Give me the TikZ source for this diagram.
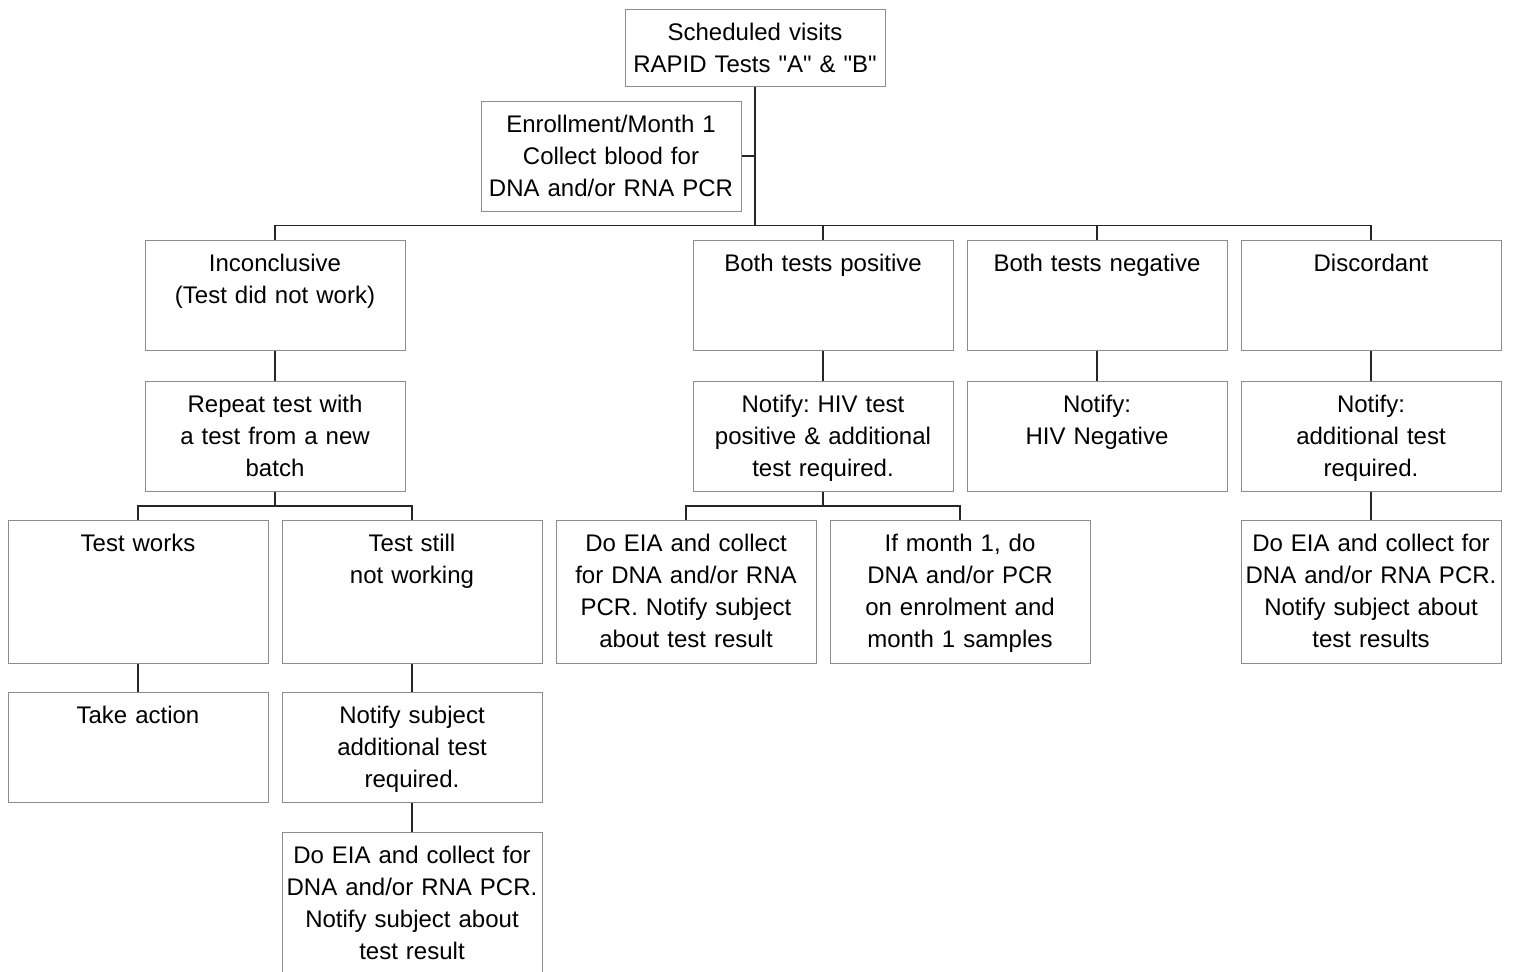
\documentclass[tikz,border=0pt]{standalone}
\usepackage{fontspec}
\setmainfont{Liberation Sans}
\usetikzlibrary{positioning}
\frenchspacing

\begin{document}
\begin{tikzpicture}[x=1pt,y=1pt,node distance=137pt,
	font=\fontsize{12pt}{16pt}\selectfont,
	box/.style={draw=black!45,line width=0.5pt,text width=128pt,align=center,
		inner xsep=1pt,inner ysep=2pt,text height=13.5pt,text depth=37.5pt},
	tallbox/.style={box,text depth=54pt},
	topbox/.style={box,text depth=21pt},
	link/.style={draw=black!85,line width=0.6pt}]
	\useasboundingbox (0,0) rectangle (757.5,-485.5);

	\node[topbox] (visits) at (377.5,-23.75) {Scheduled visits\\RAPID Tests \textquotedbl A\textquotedbl{} \& \textquotedbl B\textquotedbl};
	\node[box] (enr) at (305.5,-78) {Enrollment/Month 1\\Collect blood for\\DNA and/or RNA PCR};

	\node[box] (inc) at (137.5,-147.75) {Inconclusive\\(Test did not work)};
	\node[box] (pos) at (411.5,-147.75) {Both tests positive};
	\node[box] (neg) [right of=pos] {Both tests negative};
	\node[box] (dis) [right of=neg] {Discordant};

	\node[box] (rep) [below=15pt of inc] {Repeat test with\\a test from a new\\batch};
	\node[box] (npos) [below=15pt of pos] {Notify: HIV test\\positive \& additional\\test required.};
	\node[box] (nneg) [below=15pt of neg] {Notify:\\HIV Negative};
	\node[box] (ndis) [below=15pt of dis] {Notify:\\additional test\\required.};

	\node[tallbox] (works) [below=13.75pt of rep,xshift=-68.5pt] {Test works};
	\node[tallbox] (still) [right of=works] {Test still\\not working};
	\node[tallbox] (eia) [below=13.75pt of npos,xshift=-68.5pt] {Do EIA and collect\\for DNA and/or RNA\\PCR. Notify subject\\about test result};
	\node[tallbox] (month) [right of=eia] {If month 1, do\\DNA and/or PCR\\on enrolment and\\month 1 samples};
	\node[tallbox] (eiad) [below=13.75pt of ndis] {Do EIA and collect for\\DNA and/or RNA PCR.\\Notify subject about\\test results};

	\node[box] (act) [below=14pt of works] {Take action};
	\node[box] (nsub) [right of=act] {Notify subject\\additional test\\required.};
	\node[tallbox] (eiab) [below=14.5pt of nsub] {Do EIA and collect for\\DNA and/or RNA PCR.\\Notify subject about\\test result};

	\draw[link] (visits.south) -- ++(0,-69.5) coordinate (bus);
	\draw[link] (enr.east) -- (enr.east -| bus);
	\foreach \n in {inc,pos,neg,dis}
		\draw[link] (bus) -| (\n.north);

	\path[link] (inc) edge (rep)
	(pos) edge (npos)
	(neg) edge (nneg)
	(dis) edge (ndis)
	(ndis) edge (eiad)
	(works) edge (act)
	(still) edge (nsub)
	(nsub) edge (eiab)
	;

	\draw[link] (rep.south) -- ++(0,-7) coordinate (fork1) -| (works.north)
		(fork1) -| (still.north);
	\draw[link] (npos.south) -- ++(0,-7) coordinate (fork2) -| (eia.north)
		(fork2) -| (month.north);
\end{tikzpicture}
\end{document}
